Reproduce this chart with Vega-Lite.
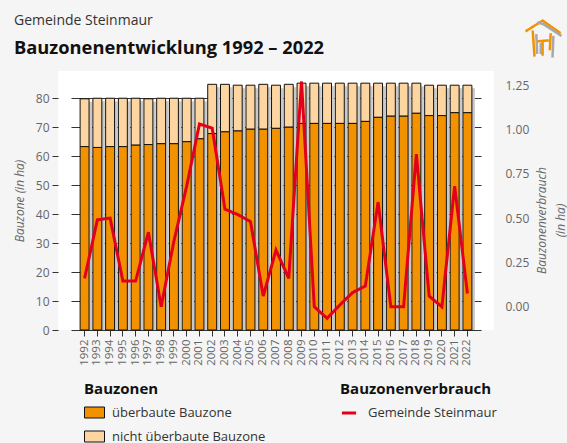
{
"$schema":"https://vega.github.io/schema/vega-lite/v6.json",
"width":436,"height":259,
"autosize":{"type":"none"},
"padding":{"left":58,"top":71,"right":73,"bottom":113},
"background":"#f5f5f5",
"view":{"fill":"#ffffff","stroke":null},
"config":{"font":"Open Sans"},
"title":{"text":"Gemeinde Steinmaur","subtitle":"Bauzonenentwicklung 1992 – 2022","anchor":"start","frame":"group","dx":-44,"offset":-37,"font":"Open Sans","fontSize":14,"fontWeight":"normal","color":"#333333","subtitleFont":"Open Sans","subtitleFontSize":18.3,"subtitleFontWeight":"bold","subtitleColor":"#111111","subtitlePadding":12},
"data":{"values":[
{"Jahr":"1992","überbaute Bauzone":63.3,"nicht überbaute Bauzone":16.5,"gesamt":79.8,"Gemeinde Steinmaur":0.16},
{"Jahr":"1993","überbaute Bauzone":63.0,"nicht überbaute Bauzone":17.0,"gesamt":80.0,"Gemeinde Steinmaur":0.49},
{"Jahr":"1994","überbaute Bauzone":63.3,"nicht überbaute Bauzone":16.7,"gesamt":80.0,"Gemeinde Steinmaur":0.50},
{"Jahr":"1995","überbaute Bauzone":63.3,"nicht überbaute Bauzone":16.7,"gesamt":80.0,"Gemeinde Steinmaur":0.145},
{"Jahr":"1996","überbaute Bauzone":63.8,"nicht überbaute Bauzone":16.2,"gesamt":80.0,"Gemeinde Steinmaur":0.145},
{"Jahr":"1997","überbaute Bauzone":64.0,"nicht überbaute Bauzone":15.8,"gesamt":79.8,"Gemeinde Steinmaur":0.42},
{"Jahr":"1998","überbaute Bauzone":64.3,"nicht überbaute Bauzone":15.7,"gesamt":80.0,"Gemeinde Steinmaur":0.0},
{"Jahr":"1999","überbaute Bauzone":64.3,"nicht überbaute Bauzone":15.7,"gesamt":80.0,"Gemeinde Steinmaur":0.37},
{"Jahr":"2000","überbaute Bauzone":65.0,"nicht überbaute Bauzone":15.0,"gesamt":80.0,"Gemeinde Steinmaur":0.68},
{"Jahr":"2001","überbaute Bauzone":66.0,"nicht überbaute Bauzone":14.0,"gesamt":80.0,"Gemeinde Steinmaur":1.03},
{"Jahr":"2002","überbaute Bauzone":67.8,"nicht überbaute Bauzone":17.0,"gesamt":84.8,"Gemeinde Steinmaur":1.007},
{"Jahr":"2003","überbaute Bauzone":68.4,"nicht überbaute Bauzone":16.4,"gesamt":84.8,"Gemeinde Steinmaur":0.55},
{"Jahr":"2004","überbaute Bauzone":68.7,"nicht überbaute Bauzone":15.8,"gesamt":84.5,"Gemeinde Steinmaur":0.52},
{"Jahr":"2005","überbaute Bauzone":69.3,"nicht überbaute Bauzone":15.2,"gesamt":84.5,"Gemeinde Steinmaur":0.48},
{"Jahr":"2006","überbaute Bauzone":69.3,"nicht überbaute Bauzone":15.5,"gesamt":84.8,"Gemeinde Steinmaur":0.06},
{"Jahr":"2007","überbaute Bauzone":69.6,"nicht überbaute Bauzone":14.9,"gesamt":84.5,"Gemeinde Steinmaur":0.32},
{"Jahr":"2008","überbaute Bauzone":70.0,"nicht überbaute Bauzone":14.8,"gesamt":84.8,"Gemeinde Steinmaur":0.16},
{"Jahr":"2009","überbaute Bauzone":71.3,"nicht überbaute Bauzone":13.9,"gesamt":85.2,"Gemeinde Steinmaur":1.27},
{"Jahr":"2010","überbaute Bauzone":71.3,"nicht überbaute Bauzone":13.9,"gesamt":85.2,"Gemeinde Steinmaur":0.0},
{"Jahr":"2011","überbaute Bauzone":71.3,"nicht überbaute Bauzone":13.9,"gesamt":85.2,"Gemeinde Steinmaur":-0.065},
{"Jahr":"2012","überbaute Bauzone":71.3,"nicht überbaute Bauzone":13.9,"gesamt":85.2,"Gemeinde Steinmaur":0.01},
{"Jahr":"2013","überbaute Bauzone":71.3,"nicht überbaute Bauzone":13.9,"gesamt":85.2,"Gemeinde Steinmaur":0.08},
{"Jahr":"2014","überbaute Bauzone":72.0,"nicht überbaute Bauzone":13.2,"gesamt":85.2,"Gemeinde Steinmaur":0.117},
{"Jahr":"2015","überbaute Bauzone":73.4,"nicht überbaute Bauzone":11.8,"gesamt":85.2,"Gemeinde Steinmaur":0.59},
{"Jahr":"2016","überbaute Bauzone":73.8,"nicht überbaute Bauzone":11.4,"gesamt":85.2,"Gemeinde Steinmaur":0.0},
{"Jahr":"2017","überbaute Bauzone":73.8,"nicht überbaute Bauzone":11.4,"gesamt":85.2,"Gemeinde Steinmaur":0.0},
{"Jahr":"2018","überbaute Bauzone":74.8,"nicht überbaute Bauzone":10.4,"gesamt":85.2,"Gemeinde Steinmaur":0.86},
{"Jahr":"2019","überbaute Bauzone":74.0,"nicht überbaute Bauzone":10.5,"gesamt":84.5,"Gemeinde Steinmaur":0.06},
{"Jahr":"2020","überbaute Bauzone":74.0,"nicht überbaute Bauzone":10.5,"gesamt":84.5,"Gemeinde Steinmaur":0.0},
{"Jahr":"2021","überbaute Bauzone":75.0,"nicht überbaute Bauzone":9.5,"gesamt":84.5,"Gemeinde Steinmaur":0.68},
{"Jahr":"2022","überbaute Bauzone":75.0,"nicht überbaute Bauzone":9.5,"gesamt":84.5,"Gemeinde Steinmaur":0.075}
]},
"encoding":{"x":{"field":"Jahr","type":"ordinal","title":null,"scale":{"type":"band","range":[13,423],"paddingInner":0.3,"paddingOuter":0.715},"axis":{"labelAngle":-90,"labelFontSize":11.5,"labelColor":"#666666","tickColor":"#333333","tickSize":6,"domain":false,"grid":false,"labelPadding":3,"labelBaseline":"middle","labelAlign":"right","labelOverlap":false}}},
"layer":[
{"layer":[
{"mark":{"type":"bar","color":"#c9c9c9","xOffset":3,"yOffset":3,"clip":true},
"encoding":{"y":{"field":"gesamt","type":"quantitative","scale":{"domain":[0,89.4],"nice":false},"axis":{"values":[0,10,20,30,40,50,60,70,80],"labelOverlap":false,"title":"Bauzone (in ha)","titleFont":"Open Sans","titleFontStyle":"italic","titleFontWeight":"normal","titleFontSize":12,"titleColor":"#666666","titleX":-32,"labelFontSize":12,"labelColor":"#666666","tickColor":"#333333","tickSize":6,"labelPadding":3,"domain":false,"grid":true,"gridColor":"#333333","gridWidth":1,"zindex":0}}}},
{"transform":[{"fold":["nicht überbaute Bauzone","überbaute Bauzone"],"as":["Art","Wert"]}],
"mark":{"type":"bar","stroke":"#111111","strokeWidth":1},
"encoding":{"y":{"field":"Wert","type":"quantitative","stack":"zero","scale":{"domain":[0,89.4],"nice":false},"axis":{"values":[0,10,20,30,40,50,60,70,80],"labelOverlap":false,"title":"Bauzone (in ha)","titleFont":"Open Sans","titleFontStyle":"italic","titleFontWeight":"normal","titleFontSize":12,"titleColor":"#666666","titleX":-32,"labelFontSize":12,"labelColor":"#666666","tickColor":"#333333","tickSize":6,"labelPadding":3,"domain":false,"grid":true,"gridColor":"#333333","gridWidth":1,"zindex":0}},
"order":{"field":"Art","sort":"descending"},
"fill":{"field":"Art","type":"nominal","scale":{"domain":["überbaute Bauzone","nicht überbaute Bauzone"],"range":["#f39200","#fdd5a0"]},
"legend":{"title":"Bauzonen","orient":"none","legendX":26,"legendY":311,"titleFontSize":15,"titleFontWeight":"bold","titleColor":"#111111","titleFont":"Open Sans","labelFontSize":13,"labelColor":"#333333","labelFont":"Open Sans","symbolType":"M-1,-0.55H1V0.55H-1Z","symbolSize":400,"symbolStrokeColor":"#111111","symbolStrokeWidth":1,"rowPadding":6,"titlePadding":5,"labelOffset":7}}}}
]},
{"mark":{"type":"line","strokeWidth":3,"clip":false},
"encoding":{"y":{"field":"Gemeinde Steinmaur","type":"quantitative","scale":{"domain":[-0.131,1.329],"nice":false},"axis":{"orient":"right","values":[0,0.25,0.5,0.75,1,1.25],"format":".2f","labelOverlap":false,"title":["Bauzonenverbrauch","(in ha)"],"titleAngle":-90,"titleFont":"Open Sans","titleFontStyle":"italic","titleFontWeight":"normal","titleFontSize":12,"titleColor":"#666666","titleLineHeight":19,"titleX":54,"titleY":149,"labelFontSize":12,"labelColor":"#666666","ticks":false,"labelPadding":11,"domain":false,"grid":false}},
"stroke":{"datum":"Gemeinde Steinmaur","type":"nominal","scale":{"domain":["Gemeinde Steinmaur"],"range":["#e2001a"]},
"legend":{"title":"Bauzonenverbrauch","orient":"none","legendX":282,"legendY":311,"titleFontSize":15,"titleFontWeight":"bold","titleColor":"#111111","titleFont":"Open Sans","labelFontSize":13,"labelColor":"#333333","labelFont":"Open Sans","symbolType":"stroke","symbolSize":200,"symbolStrokeWidth":3,"titlePadding":7,"labelOffset":10}},
"strokeDash":{"datum":"Logo Dach","type":"nominal","scale":{"domain":["Logo Dach"],"range":[[1,0]]},
"legend":{"title":null,"orient":"none","legendX":466,"legendY":-51,"labelExpr":"''","symbolType":"M-1,-0.45L-0.05,-1.05L0.95,-0.35M-0.6,-0.5L-0.5,0.95M-0.35,0.1L0.3,0.05M-0.05,0.1V0.9M0.4,-0.35L0.35,0.6","symbolSize":1296,"symbolFillColor":"transparent","symbolStrokeColor":"#f39200","symbolStrokeWidth":2.5}},
"opacity":{"datum":"Logo Schatten","type":"nominal","scale":{"domain":["Logo Schatten"],"range":[1]},
"legend":{"title":null,"orient":"none","legendX":466,"legendY":-51,"labelExpr":"''","symbolType":"M-0.35,-0.95L0,-0.85L1,-0.2M-0.4,-0.3L-0.35,0.8M0.55,-0.2L0.5,1M-0.15,0.2V0.8","symbolSize":1296,"symbolFillColor":"transparent","symbolStrokeColor":"#a8a8a8","symbolStrokeWidth":2.5,"symbolOpacity":1}}}}
],
"resolve":{"scale":{"y":"independent","fill":"independent","stroke":"independent"},"axis":{"y":"independent"}}
}
